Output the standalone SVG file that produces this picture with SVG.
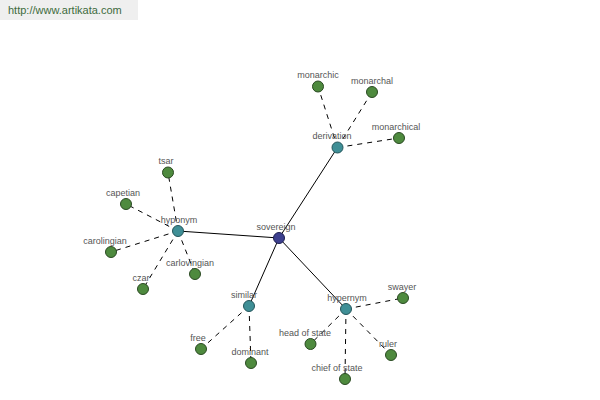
<svg xmlns="http://www.w3.org/2000/svg" width="600" height="400" viewBox="0 0 600 400">
<style>
.s{stroke:#000;stroke-width:1;fill:none}
.d{stroke:#000;stroke-width:1;fill:none;stroke-dasharray:5,5}
.lbl{font-family:"Liberation Sans",Arial,sans-serif;font-size:9px;fill:#555;text-anchor:middle}
.leaf{fill:#4e8a3e;stroke:#2a4a22;stroke-width:1}
.mid{fill:#3f8f96;stroke:#24555a;stroke-width:1}
.root{fill:#3c3f8e;stroke:#1e2050;stroke-width:1}
</style>
<rect width="600" height="400" fill="#fff"/>
<rect x="0" y="0" width="138" height="20" fill="#efefef"/>
<text x="8" y="14" style="font-family:'Liberation Sans',Arial,sans-serif;font-size:11px;fill:#3d6b3d">http://www.artikata.com</text>
<g id="connectors">
<line class="s" x1="279" y1="238" x2="337.5" y2="147.5"/>
<line class="s" x1="279" y1="238" x2="178" y2="231"/>
<line class="s" x1="279" y1="238" x2="249" y2="306"/>
<line class="s" x1="279" y1="238" x2="346" y2="309"/>
<line class="d" x1="337.5" y1="147.5" x2="318" y2="86.5"/>
<line class="d" x1="337.5" y1="147.5" x2="372" y2="92"/>
<line class="d" x1="337.5" y1="147.5" x2="399" y2="138"/>
<line class="d" x1="178" y1="231" x2="168" y2="172.5"/>
<line class="d" x1="178" y1="231" x2="126" y2="204"/>
<line class="d" x1="178" y1="231" x2="111" y2="252"/>
<line class="d" x1="178" y1="231" x2="143" y2="289"/>
<line class="d" x1="178" y1="231" x2="195" y2="274"/>
<line class="d" x1="249" y1="306" x2="201" y2="349"/>
<line class="d" x1="249" y1="306" x2="251" y2="363"/>
<line class="d" x1="346" y1="309" x2="403" y2="298"/>
<line class="d" x1="346" y1="309" x2="310.5" y2="344"/>
<line class="d" x1="346" y1="309" x2="391" y2="355"/>
<line class="d" x1="346" y1="309" x2="345" y2="379"/>
</g>
<g id="sovereign"><circle class="root" cx="279" cy="238" r="5.5"/><text class="lbl" x="276" y="230">sovereign</text></g>
<g id="derivation"><circle class="mid" cx="337.5" cy="147.5" r="5.5"/><text class="lbl" x="332" y="139">derivation</text></g>
<g id="hyponym"><circle class="mid" cx="178" cy="231" r="5.5"/><text class="lbl" x="179" y="223">hyponym</text></g>
<g id="similar"><circle class="mid" cx="249" cy="306" r="5.5"/><text class="lbl" x="244" y="298">similar</text></g>
<g id="hypernym"><circle class="mid" cx="346" cy="309" r="5.5"/><text class="lbl" x="347" y="301">hypernym</text></g>
<g id="monarchic"><circle class="leaf" cx="318" cy="86.5" r="5.5"/><text class="lbl" x="318" y="78">monarchic</text></g>
<g id="monarchal"><circle class="leaf" cx="372" cy="92" r="5.5"/><text class="lbl" x="372" y="84">monarchal</text></g>
<g id="monarchical"><circle class="leaf" cx="399" cy="138" r="5.5"/><text class="lbl" x="396" y="130">monarchical</text></g>
<g id="tsar"><circle class="leaf" cx="168" cy="172.5" r="5.5"/><text class="lbl" x="166" y="164">tsar</text></g>
<g id="capetian"><circle class="leaf" cx="126" cy="204" r="5.5"/><text class="lbl" x="123" y="196">capetian</text></g>
<g id="carolingian"><circle class="leaf" cx="111" cy="252" r="5.5"/><text class="lbl" x="105" y="244">carolingian</text></g>
<g id="czar"><circle class="leaf" cx="143" cy="289" r="5.5"/><text class="lbl" x="141" y="281">czar</text></g>
<g id="carlovingian"><circle class="leaf" cx="195" cy="274" r="5.5"/><text class="lbl" x="190" y="266">carlovingian</text></g>
<g id="free"><circle class="leaf" cx="201" cy="349" r="5.5"/><text class="lbl" x="198" y="341">free</text></g>
<g id="dominant"><circle class="leaf" cx="251" cy="363" r="5.5"/><text class="lbl" x="250" y="355">dominant</text></g>
<g id="swayer"><circle class="leaf" cx="403" cy="298" r="5.5"/><text class="lbl" x="402" y="290">swayer</text></g>
<g id="head_of_state"><circle class="leaf" cx="310.5" cy="344" r="5.5"/><text class="lbl" x="305" y="336">head of state</text></g>
<g id="ruler"><circle class="leaf" cx="391" cy="355" r="5.5"/><text class="lbl" x="388" y="347">ruler</text></g>
<g id="chief_of_state"><circle class="leaf" cx="345" cy="379" r="5.5"/><text class="lbl" x="337" y="371">chief of state</text></g>
</svg>
